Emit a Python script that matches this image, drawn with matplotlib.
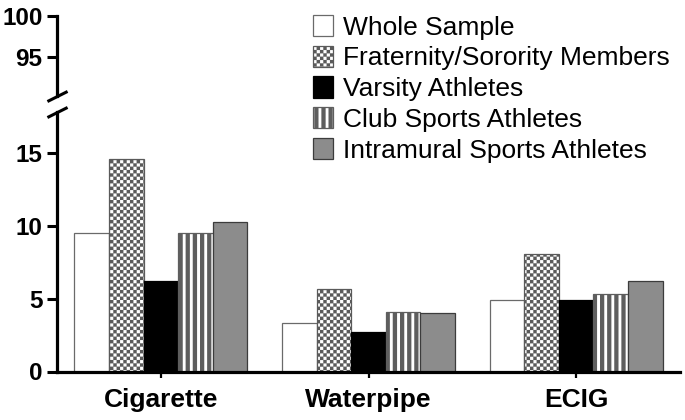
import warnings
warnings.filterwarnings('ignore')
import numpy as np
import matplotlib
matplotlib.use('Agg')
import matplotlib.pyplot as plt
import matplotlib.hatch as mhatch
from matplotlib.path import Path

# ---------------- data ----------------
categories = ['Cigarette', 'Waterpipe', 'ECIG']
series_names = ['Whole Sample', 'Fraternity/Sorority Members', 'Varsity Athletes',
                'Club Sports Athletes', 'Intramural Sports Athletes']
whole_sample = [9.5, 3.3, 4.9]
fraternity_sorority = [14.6, 5.7, 8.1]
varsity_athletes = [6.2, 2.7, 4.9]
club_sports = [9.5, 4.1, 5.3]
intramural_sports = [10.3, 4.0, 6.2]
lower_ticks = [0, 5, 10, 15]
upper_ticks = [95, 100]

# ---------------- custom hatches ----------------
class CheckerHatch(mhatch.HatchPatternBase):
    cells = 30  # cells per hatch tile edge (even)

    def __init__(self, hatch, density):
        self.on = 'c' in hatch
        n = self.cells
        self.num_vertices = (n * n // 2) * 5 if self.on else 0

    def set_vertices_and_codes(self, vertices, codes):
        n = self.cells
        s = 1.0 / n
        sq = np.array([[0, 0], [s, 0], [s, s], [0, s], [0, 0]], dtype=float)
        cd = [Path.MOVETO, Path.LINETO, Path.LINETO, Path.LINETO, Path.CLOSEPOLY]
        k = 0
        for i in range(n):
            for j in range(n):
                if (i + j) % 2 == 0:
                    vertices[k:k + 5] = sq + [i * s, j * s]
                    codes[k:k + 5] = cd
                    k += 5


class StripeHatch(mhatch.HatchPatternBase):
    stripes = 14
    frac = 0.58

    def __init__(self, hatch, density):
        self.on = 'v' in hatch
        self.num_vertices = self.stripes * 5 if self.on else 0

    def set_vertices_and_codes(self, vertices, codes):
        p = 1.0 / self.stripes
        w = p * self.frac
        rect = np.array([[0, -0.01], [w, -0.01], [w, 1.01], [0, 1.01], [0, -0.01]])
        cd = [Path.MOVETO, Path.LINETO, Path.LINETO, Path.LINETO, Path.CLOSEPOLY]
        for i in range(self.stripes):
            vertices[i * 5:i * 5 + 5] = rect + [i * p, 0]
            codes[i * 5:i * 5 + 5] = cd


mhatch._hatch_types.extend([CheckerHatch, StripeHatch])

plt.rcParams['font.family'] = ['Liberation Sans', 'DejaVu Sans']
plt.rcParams['hatch.linewidth'] = 0.1

series = [whole_sample, fraternity_sorority, varsity_athletes, club_sports, intramural_sports]
styles = [
    dict(facecolor='white', edgecolor='#6a6a6a', hatch=None),
    dict(facecolor='white', edgecolor='#5a5a5a', hatch='c'),
    dict(facecolor='black', edgecolor='black', hatch=None),
    dict(facecolor='white', edgecolor='#5e5e5e', hatch='v'),
    dict(facecolor='#8c8c8c', edgecolor='#3c3c3c', hatch=None),
]

W, H = 685, 420
fig = plt.figure(figsize=(W / 100, H / 100), dpi=100)
left = 57 / W
width = (680 - 57) / W
ax = fig.add_axes([left, 1 - 371.5 / H, width, (371.5 - 112) / H])
ax_top = fig.add_axes([left, 1 - 96 / H, width, (96 - 16) / H])

x = np.arange(len(categories))
bw = 1 / 6
handles = []
for i, (vals, st) in enumerate(zip(series, styles)):
    b = ax.bar(x + (i - 2) * bw, vals, width=bw, linewidth=0.9, label=series_names[i], **st)
    handles.append(b)

ax.set_xlim(-0.5, 2.5)
ax_top.set_xlim(-0.5, 2.5)
ax.set_ylim(0, 17.84)
ax_top.set_ylim(90.25, 100)

for a in (ax, ax_top):
    a.spines['top'].set_visible(False)
    a.spines['right'].set_visible(False)
    a.spines['left'].set_linewidth(2.3)
    a.tick_params(axis='y', direction='out', length=7.5, width=2.2, pad=3)
ax.spines['bottom'].set_linewidth(2.3)
ax_top.spines['bottom'].set_visible(False)
ax_top.tick_params(axis='x', bottom=False, labelbottom=False)

ax.set_yticks(lower_ticks)
ax.set_yticklabels([str(v) for v in lower_ticks], fontweight='bold', fontsize=17.5)
ax_top.set_yticks(upper_ticks)
ax_top.set_yticklabels([str(v) for v in upper_ticks], fontweight='bold', fontsize=17.5)

ax.set_xticks(x)
ax.set_xticklabels(categories, fontweight='bold', fontsize=19)
ax.tick_params(axis='x', direction='out', length=4, width=1.6, pad=8)

# break marks
mk = [(-1, -0.5), (1, 0.5)]
kw = dict(marker=mk, markersize=14.5, linestyle='none', color='k', mec='k', mew=2.2, clip_on=False)
ax_top.plot([0], [0], transform=ax_top.transAxes, **kw)
ax.plot([0], [1], transform=ax.transAxes, **kw)

fig.legend(handles=handles, labels=series_names, loc='upper left',
           bbox_to_anchor=(313 / W, 1 - 15 / H), frameon=False, fontsize=19,
           handlelength=0.75, handleheight=0.85, handletextpad=0.4,
           labelspacing=0.23, borderpad=0, borderaxespad=0)

fig.savefig('out.png', dpi=100)
